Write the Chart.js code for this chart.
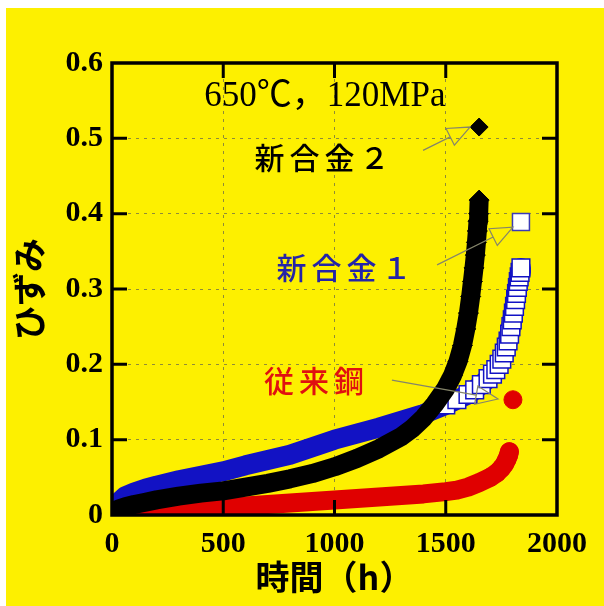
<!DOCTYPE html>
<html>
<head>
<meta charset="utf-8">
<script src="https://cdn.jsdelivr.net/npm/chart.js@4.4.1/dist/chart.umd.min.js"></script>
<style>
  html, body { margin: 0; padding: 0; background: #ffffff; }
  #wrap { position: absolute; left: 6px; top: 8px; width: 598px; height: 598px; background: #fdf000; }
  canvas { display: block; }
</style>
</head>
<body>
<div id="wrap"><canvas id="c" width="598" height="598"></canvas></div>
<script>
// ---- data (time in h, strain) ----
const alloy2Time   = [0, 10, 30, 60, 100, 150, 200, 300, 400, 500, 600, 700, 800, 900, 1000, 1100, 1200, 1300, 1350, 1400, 1450, 1500, 1530, 1555, 1575, 1590, 1602, 1612, 1620, 1627, 1633, 1638, 1642, 1645, 1648, 1650];
const alloy2Strain = [0, 0.004, 0.008, 0.011, 0.014, 0.017, 0.020, 0.025, 0.029, 0.032, 0.037, 0.042, 0.048, 0.055, 0.064, 0.075, 0.088, 0.104, 0.115, 0.129, 0.147, 0.168, 0.185, 0.204, 0.225, 0.247, 0.268, 0.290, 0.310, 0.328, 0.345, 0.362, 0.377, 0.390, 0.400, 0.418];

const alloy1Time   = [0, 10, 30, 60, 100, 150, 200, 300, 400, 500, 600, 700, 800, 900, 1000, 1100, 1200, 1300, 1400, 1450, 1500, 1550, 1600, 1630, 1660, 1690, 1710, 1725, 1740, 1752, 1763, 1772, 1780, 1787, 1793, 1799, 1804, 1809, 1814, 1818, 1822, 1826, 1830, 1834, 1838];
const alloy1Strain = [0.003, 0.010, 0.017, 0.025, 0.030, 0.035, 0.039, 0.046, 0.052, 0.058, 0.066, 0.073, 0.080, 0.090, 0.100, 0.108, 0.116, 0.125, 0.134, 0.140, 0.146, 0.153, 0.160, 0.166, 0.173, 0.181, 0.187, 0.193, 0.200, 0.207, 0.215, 0.223, 0.231, 0.240, 0.250, 0.259, 0.268, 0.277, 0.286, 0.294, 0.302, 0.310, 0.316, 0.322, 0.328];

const steelTime    = [0, 20, 50, 100, 200, 300, 400, 500, 600, 700, 800, 900, 1000, 1100, 1200, 1300, 1400, 1500, 1550, 1600, 1650, 1700, 1730, 1750, 1765, 1775, 1782, 1786];
const steelStrain  = [0, 0.0005, 0.001, 0.002, 0.004, 0.006, 0.008, 0.010, 0.012, 0.014, 0.016, 0.018, 0.020, 0.022, 0.024, 0.026, 0.028, 0.031, 0.033, 0.037, 0.043, 0.050, 0.056, 0.062, 0.068, 0.074, 0.079, 0.084];

// rupture (isolated) points
const alloy2RuptureTime = [1650], alloy2RuptureStrain = [0.515];
const alloy1RuptureTime = [1838], alloy1RuptureStrain = [0.389];
const steelRuptureTime  = [1802], steelRuptureStrain  = [0.153];

const xTicks = [0, 500, 1000, 1500, 2000];
const yTicks = [0, 0.1, 0.2, 0.3, 0.4, 0.5, 0.6];

const condText = '650℃，120MPa';
const labelTexts = ['新合金２', '新合金１', '従来鋼'];
// label anchor (time, strain)
const labelTime   = [944, 1043, 908];
const labelStrain = [0.475, 0.329, 0.178];
const condTime = 957, condStrain = 0.555;
// arrows: from (time,strain) to (time,strain)
const arrowFromTime   = [1398, 1461, 1258];
const arrowFromStrain = [0.484, 0.332, 0.179];
const arrowToTime     = [1609, 1802, 1735];
const arrowToStrain   = [0.515, 0.382, 0.154];

const BLACK = '#000000', BLUE = '#1212c4', RED = '#e00000';
const pts = (xs, ys) => xs.map((v, i) => ({x: v, y: ys[i]}));

const framePlugin = {
  id: 'frame',
  afterDatasetsDraw(chart) {
    const {ctx, chartArea: a, scales: {x, y}} = chart;
    ctx.save();
    // annotations: arrows
    ctx.strokeStyle = '#85856a';
    ctx.lineWidth = 1.2;
    for (let i = 0; i < arrowFromTime.length; i++) {
      const x1 = x.getPixelForValue(arrowFromTime[i]), y1 = y.getPixelForValue(arrowFromStrain[i]);
      const x2 = x.getPixelForValue(arrowToTime[i]), y2 = y.getPixelForValue(arrowToStrain[i]);
      const ang = Math.atan2(y2 - y1, x2 - x1);
      const L = 24, w = 0.4;
      const bx1 = x2 - L * Math.cos(ang - w), by1 = y2 - L * Math.sin(ang - w);
      const bx2 = x2 - L * Math.cos(ang + w), by2 = y2 - L * Math.sin(ang + w);
      ctx.beginPath();
      ctx.moveTo(x1, y1);
      ctx.lineTo((bx1 + bx2) / 2, (by1 + by2) / 2);
      ctx.moveTo(x2, y2); ctx.lineTo(bx1, by1); ctx.lineTo(bx2, by2); ctx.closePath();
      ctx.stroke();
    }
    // texts
    ctx.textAlign = 'center';
    ctx.textBaseline = 'middle';
    ctx.fillStyle = '#000';
    ctx.font = '35px "Liberation Serif", "Noto Sans CJK JP"';
    ctx.fillText(condText, x.getPixelForValue(condTime), y.getPixelForValue(condStrain));
    const colors = ['#000000', '#2424a8', '#e01010'];
    ctx.font = '500 30px "Noto Sans CJK JP"';
    try { ctx.letterSpacing = '5px'; } catch (e) {}
    for (let i = 0; i < labelTexts.length; i++) {
      ctx.fillStyle = colors[i];
      ctx.fillText(labelTexts[i], x.getPixelForValue(labelTime[i]) + 2.5, y.getPixelForValue(labelStrain[i]));
    }
    try { ctx.letterSpacing = '0px'; } catch (e) {}
    // inward ticks
    ctx.strokeStyle = '#000';
    ctx.lineWidth = 3;
    ctx.beginPath();
    x.ticks.forEach(t => {
      if (t.value <= x.min || t.value >= x.max) return;
      const px = x.getPixelForValue(t.value);
      ctx.moveTo(px, a.bottom); ctx.lineTo(px, a.bottom - 15);
      ctx.moveTo(px, a.top); ctx.lineTo(px, a.top + 15);
    });
    y.ticks.forEach(t => {
      if (t.value <= y.min || t.value >= y.max) return;
      const py = y.getPixelForValue(t.value);
      ctx.moveTo(a.left, py); ctx.lineTo(a.left + 15, py);
      ctx.moveTo(a.right, py); ctx.lineTo(a.right - 15, py);
    });
    ctx.stroke();
    ctx.lineWidth = 3.5;
    ctx.strokeRect(a.left, a.top, a.right - a.left, a.bottom - a.top);
    ctx.restore();
  }
};

const tickFont = {family: '"Liberation Serif", "Times New Roman", serif', size: 30, weight: 'bold'};
const titleFont = {family: '"Noto Sans CJK JP"', size: 34, weight: 'bold'};

new Chart(document.getElementById('c'), {
  type: 'scatter',
  data: {
    datasets: [
      {label: '新合金2 破断', data: pts(alloy2RuptureTime, alloy2RuptureStrain), pointStyle: 'rectRot', pointRadius: 9,
       pointBackgroundColor: BLACK, pointBorderColor: BLACK, pointBorderWidth: 1, showLine: false},
      {label: '新合金1 破断', data: pts(alloy1RuptureTime, alloy1RuptureStrain), pointStyle: 'rect', pointRadius: 12,
       pointBackgroundColor: '#ffffff', pointBorderColor: '#3a3ab8', pointBorderWidth: 1.5, showLine: false},
      {label: '従来鋼 破断', data: pts(steelRuptureTime, steelRuptureStrain), pointStyle: 'circle', pointRadius: 9,
       pointBackgroundColor: RED, pointBorderColor: RED, pointBorderWidth: 1, showLine: false},
      {label: '新合金2', data: pts(alloy2Time, alloy2Strain), showLine: true, borderColor: BLACK, borderWidth: 19,
       borderCapStyle: 'butt', borderJoinStyle: 'round', pointStyle: 'rectRot',
       pointRadius: c => (c.raw && c.raw.x >= 1500 ? 10 : 0),
       pointBackgroundColor: BLACK, pointBorderColor: BLACK, pointBorderWidth: 1},
      {label: '新合金1', data: pts(alloy1Time, alloy1Strain), showLine: true, borderColor: BLUE, borderWidth: 20,
       borderCapStyle: 'round', borderJoinStyle: 'round', pointStyle: 'rect',
       pointRadius: c => (c.raw && c.raw.x >= 1500 ? 12.5 : 0),
       pointBackgroundColor: '#ffffff', pointBorderColor: BLUE, pointBorderWidth: 1.5},
      {label: '従来鋼', data: pts(steelTime, steelStrain), showLine: true, borderColor: RED, borderWidth: 19,
       borderCapStyle: 'round', borderJoinStyle: 'round', pointStyle: 'circle',
       pointRadius: c => (c.raw && c.raw.x >= 1700 ? 9.5 : 0),
       pointBackgroundColor: RED, pointBorderColor: RED, pointBorderWidth: 0}
    ]
  },
  options: {
    responsive: false,
    animation: false,
    layout: {padding: {top: 55, right: 47, left: 0, bottom: 0}},
    plugins: {legend: {display: false}, tooltip: {enabled: false}},
    scales: {
      x: {
        type: 'linear', min: 0, max: 2000,
        afterBuildTicks: s => { s.ticks = xTicks.map(v => ({value: v})); },
        afterFit: s => { s.height = 91; },
        ticks: {font: tickFont, color: '#000', padding: 11, maxRotation: 0, autoSkip: false,
                callback: v => String(v)},
        grid: {color: 'rgba(95,95,80,0.7)', lineWidth: 1, drawTicks: false},
        border: {display: false, dash: [3, 5]},
        title: {display: true, text: '時間（h）', font: titleFont, color: '#000', padding: {top: 0, bottom: 9}}
      },
      y: {
        type: 'linear', min: 0, max: 0.6,
        afterBuildTicks: s => { s.ticks = yTicks.map(v => ({value: v})); },
        afterFit: s => { s.width = 106; },
        ticks: {font: tickFont, color: '#000', padding: 9, autoSkip: false,
                callback: v => (v === 0 ? '0' : v.toFixed(1))},
        grid: {color: 'rgba(95,95,80,0.7)', lineWidth: 1, drawTicks: false},
        border: {display: false, dash: [3, 5]},
        title: {display: true, text: 'ひずみ', font: titleFont, color: '#000', padding: {top: 3, bottom: 0}}
      }
    }
  },
  plugins: [framePlugin]
});
</script>
</body>
</html>
